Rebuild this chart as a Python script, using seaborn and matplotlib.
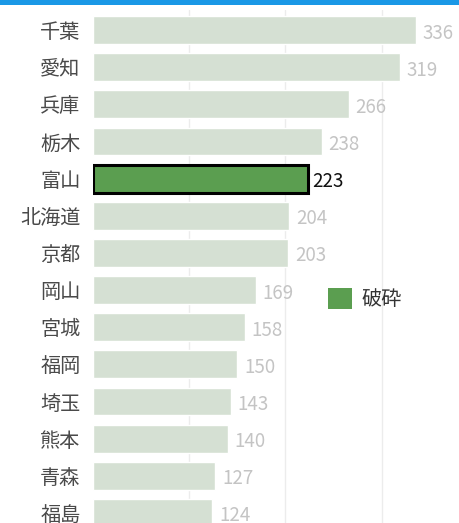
import matplotlib
matplotlib.use("Agg")
import matplotlib.pyplot as plt
from matplotlib.patches import Patch, Rectangle
import seaborn as sns

prefectures = ["千葉", "愛知", "兵庫", "栃木", "富山", "北海道", "京都",
               "岡山", "宮城", "福岡", "埼玉", "熊本", "青森", "福島"]
counts = [336, 319, 266, 238, 223, 204, 203, 169, 158, 150, 143, 140, 127, 124]
highlight = "富山"
legend_label = "破砕"

base_color = "#d5e0d3"
hi_color = "#5b9e50"

sns.set_style("white")
plt.rcParams["font.family"] = ["Noto Sans CJK JP", "DejaVu Sans"]

fig = plt.figure(figsize=(4.6, 5.23), dpi=100)
ax = fig.add_axes([93 / 460, 0, 1 - 93 / 460, 1 - 10 / 523])

colors = [hi_color if p == highlight else base_color for p in prefectures]
sns.barplot(x=counts, y=prefectures, hue=prefectures, palette=colors,
            legend=False, width=0.75, orient="h", saturation=1, ax=ax)

for bar, p, v in zip(ax.patches, prefectures, counts):
    is_hi = p == highlight
    if is_hi:
        bar.set_edgecolor("black")
        bar.set_linewidth(2.2)
    # chart is cut off at the bottom, like the source screenshot
    ax.text(v + (5 if is_hi else 7), bar.get_y() + bar.get_height() / 2 + 0.08, str(v),
            va="center", ha="left", fontsize=13.5,
            color="#111111" if is_hi else "#c4c4c4")

ax.set_xlim(0, 381.5)
ax.set_ylim(13.27, -0.54)
ax.set_xticks([100, 200, 300])
ax.set_xticklabels([])
ax.grid(axis="x", color="#ececec", linewidth=1)
ax.set_axisbelow(True)
ax.tick_params(axis="y", length=0, pad=9, labelsize=14.5, labelcolor="#4a4a4a")
ax.tick_params(axis="x", length=0)
sns.despine(ax=ax, left=True, bottom=True)
ax.set_xlabel("")
ax.set_ylabel("")

fig.add_artist(Rectangle((0, 1 - 5 / 523), 1, 5 / 523, transform=fig.transFigure,
                         facecolor="#1a98e6", edgecolor="none"))

fig.legend(handles=[Patch(facecolor=hi_color, edgecolor="none", label=legend_label)],
           loc="center left", bbox_to_anchor=(328 / 460, 1 - 299 / 523),
           bbox_transform=fig.transFigure, frameon=False, fontsize=14.5,
           handlelength=1.2, handleheight=1.2, handletextpad=0.45,
           borderpad=0, borderaxespad=0, labelcolor="#333333")

fig.savefig("out.png", dpi=100)
